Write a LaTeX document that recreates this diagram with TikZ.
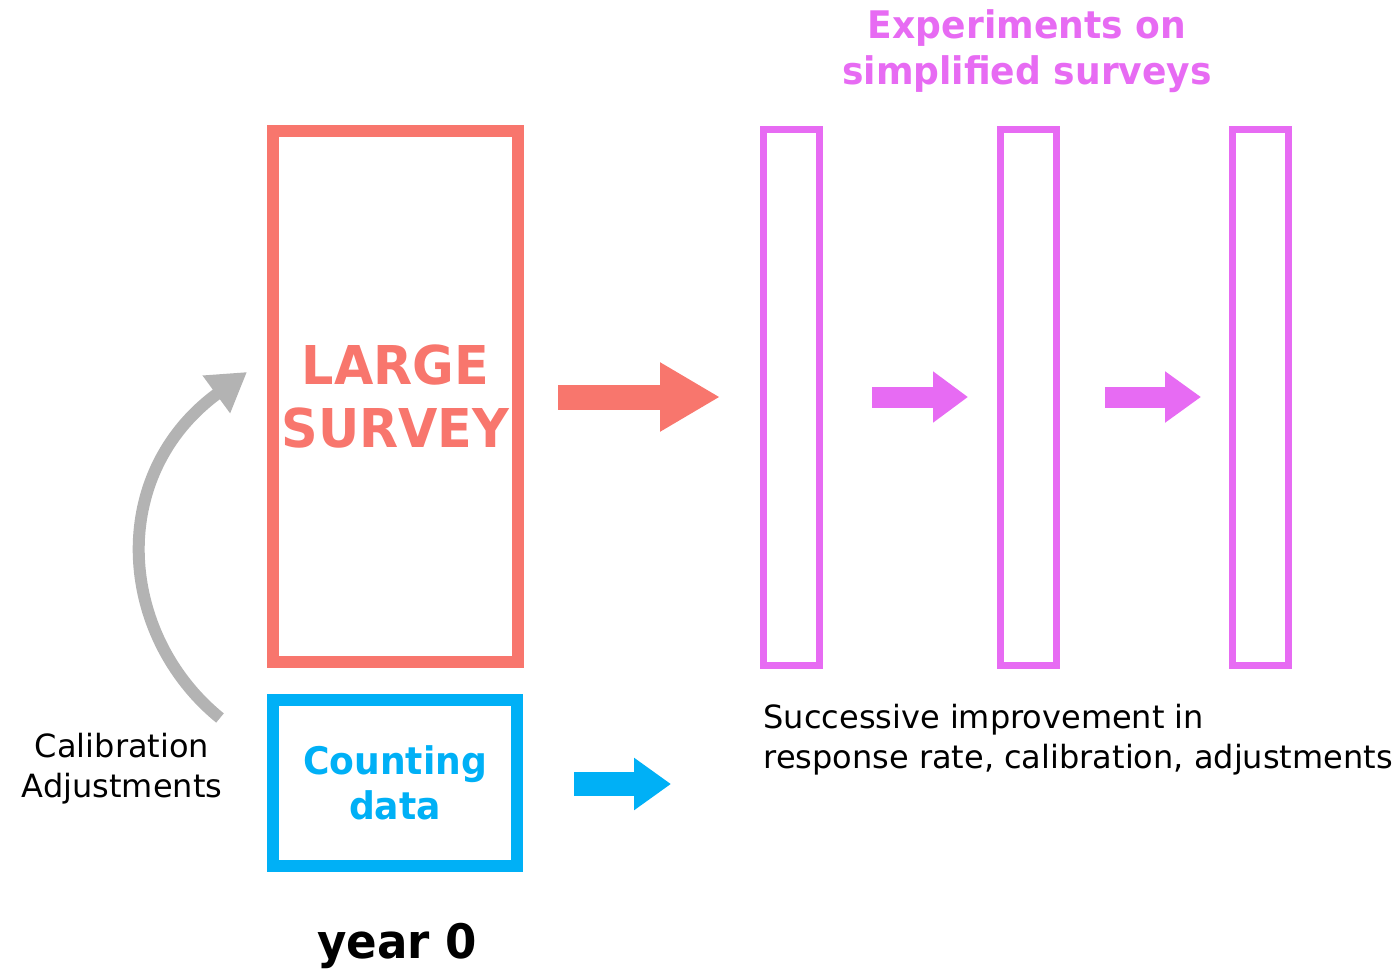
\documentclass[tikz,border=0pt]{standalone}
\usepackage{fontspec}
\setmainfont{DejaVu Sans}[BoldFeatures={FakeStretch=0.95}]
\usepackage{tikz}
\usetikzlibrary{positioning,arrows.meta}

\definecolor{salmon}{HTML}{F8766D}
\definecolor{violet}{HTML}{E76BF3}
\definecolor{skyblue}{HTML}{00B0F6}
\definecolor{lightgray}{HTML}{B3B3B3}

\tikzset{
  bigbox/.style={draw=salmon, line width=12pt, inner sep=0pt,
    minimum width=245pt, minimum height=531pt, align=center,
    text=salmon, font=\bfseries\fontsize{53.5}{63}\selectfont},
  countbox/.style={draw=skyblue, line width=12pt, inner sep=0pt,
    minimum width=244pt, minimum height=166pt, align=center,
    text=skyblue, font=\bfseries\fontsize{38}{45}\selectfont},
  slimbox/.style={draw=violet, line width=7pt, inner sep=0pt,
    minimum width=56pt, minimum height=536pt},
  note/.style={align=center, font=\fontsize{32}{40}\selectfont},
}

\begin{document}
\begin{tikzpicture}[x=1pt,y=-1pt]

\useasboundingbox (0,0) rectangle (1400,969);

% year 0
\node[bigbox]   (large)  at (395.5,396.5) {LARGE\\SURVEY};
\node[countbox] (count)  at (395,783)     {Counting\\data};
\node[anchor=base, font=\bfseries\fontsize{47.5}{50}\selectfont] (year) at (397,958) {year 0};

% simplified surveys
\node[slimbox] (s1) at (791.5,397)  {};
\node[slimbox] (s2) at (1028,397)   {};
\node[slimbox] (s3) at (1260.5,397) {};

\node[align=center, text=violet, font=\bfseries\fontsize{38}{46}\selectfont]
  (exp) at (1027,51) {Experiments on\\simplified surveys};

\node[note] (calib) at (122,769) {Calibration\\Adjustments};
\node[note, align=left, anchor=west] (succ) at (760,740)
  {Successive improvement in\\response rate, calibration, adjustments};

% arrows
\coordinate (r0) at (558,397);
\coordinate (r1) at (720,397);
\coordinate (m0) at (872,397);
\coordinate (m1) at (968,397);
\coordinate (m2) at (1105,397);
\coordinate (m3) at (1201,397);
\coordinate (b0) at (574,784);
\coordinate (b1) at (671,784);
\coordinate (g0) at (220,718);
\coordinate (g1) at (247,372);

\draw[salmon, line width=25pt, -{Triangle[length=60pt,width=65pt]}] (r0)--(r1);
\draw[violet, line width=21pt, -{Triangle[length=35pt,width=49pt]}] (m0)--(m1);
\draw[violet, line width=21pt, -{Triangle[length=36pt,width=49pt]}] (m2)--(m3);
\draw[skyblue, line width=24pt, -{Triangle[length=37pt,width=50pt]}] (b0)--(b1);

\draw[lightgray, line width=12pt, -{Triangle[length=38pt,width=44pt]}]
  (g0) .. controls (118,635) and (106,475) .. (g1);

\end{tikzpicture}
\end{document}
